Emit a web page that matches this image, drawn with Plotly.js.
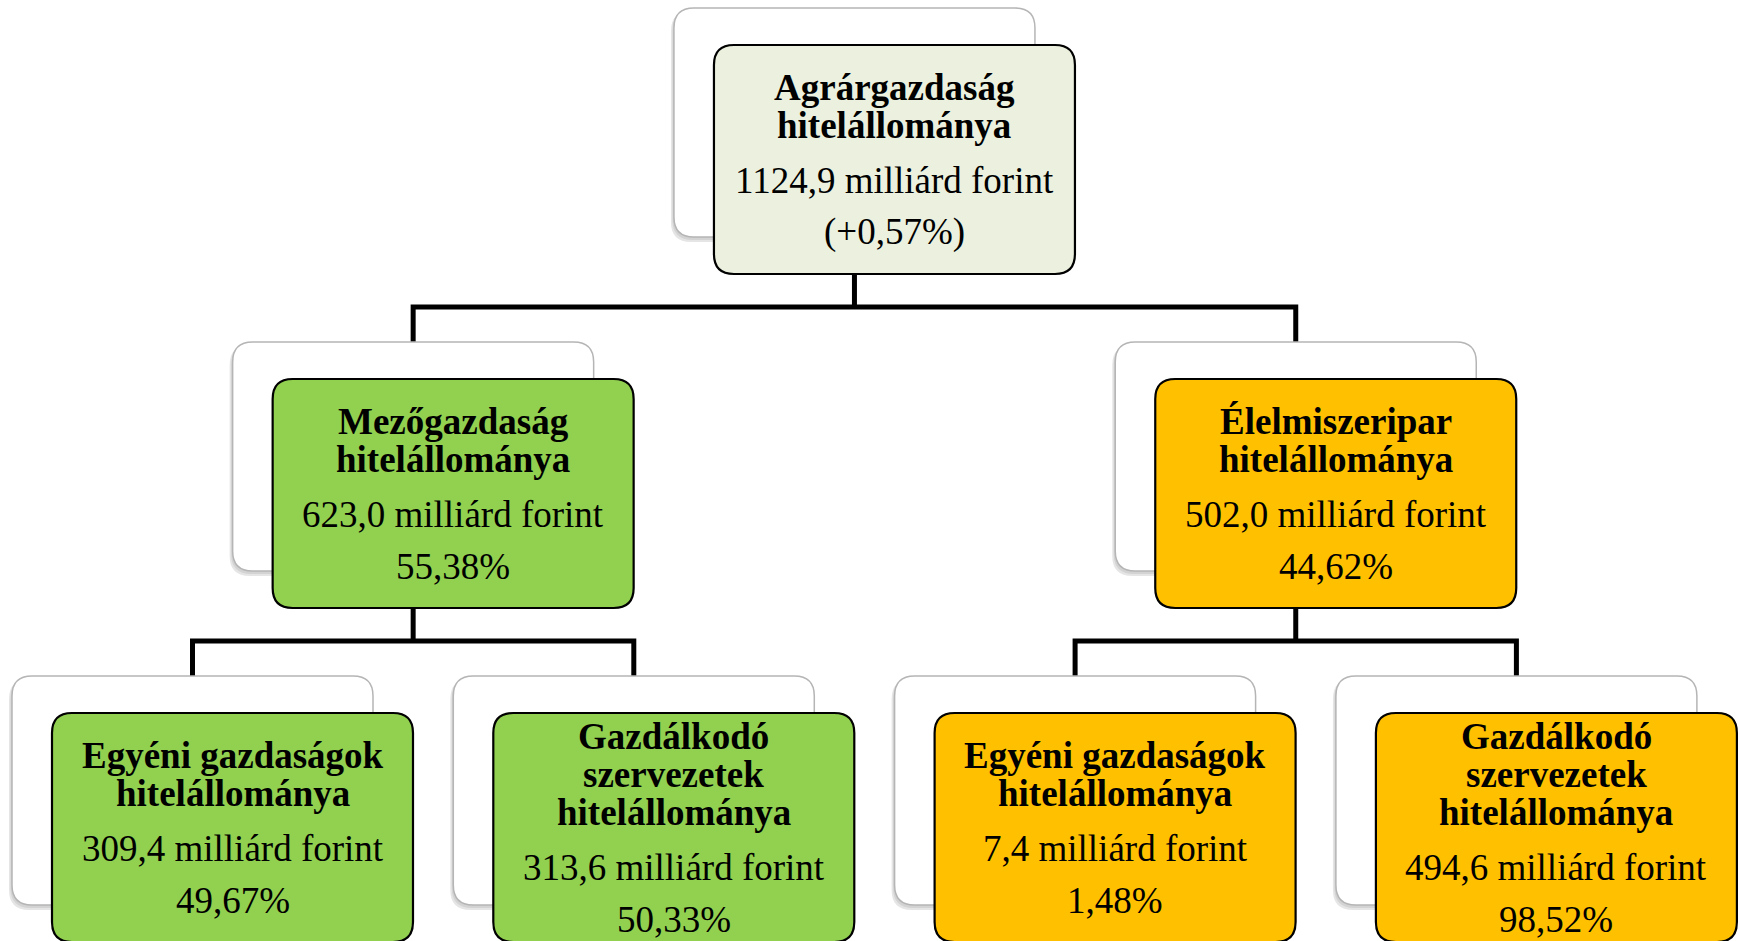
<!DOCTYPE html>
<html>
<head>
<meta charset="utf-8">
<script src="https://cdn.plot.ly/plotly-3.0.1.min.js"></script>
<style>
  html, body { margin: 0; padding: 0; background: #ffffff; overflow: hidden; }
  #chart { width: 1740px; height: 941px; }
</style>
</head>
<body>
<div id="chart"></div>
<script>
// ---------------- DATA ----------------
const nodeTitles = [
  ["Agrárgazdaság", "hitelállománya"],
  ["Mezőgazdaság", "hitelállománya"],
  ["Élelmiszeripar", "hitelállománya"],
  ["Egyéni gazdaságok", "hitelállománya"],
  ["Gazdálkodó", "szervezetek", "hitelállománya"],
  ["Egyéni gazdaságok", "hitelállománya"],
  ["Gazdálkodó", "szervezetek", "hitelállománya"]
];
const loanValues = [1124.9, 623.0, 502.0, 309.4, 313.6, 7.4, 494.6];
const shareLabels = ["(+0,57%)", "55,38%", "44,62%", "49,67%", "50,33%", "1,48%", "98,52%"];
const parentIndex = [null, 0, 0, 1, 1, 2, 2];
const valueUnit = "milliárd forint";

// ---------------- STYLE / LAYOUT ----------------
const nodeFills = ["#EBF1DE", "#92D050", "#FFC000", "#92D050", "#92D050", "#FFC000", "#FFC000"];
const W = 1740, H = 941;
const boxW = 361, boxH = 229;
const frontDx = 40, frontDy = 37;
const levelBackTop = [8, 342, 676];
const leafStart = 192.5, leafStep = 441.3;
const radius = 20;
const fontFamily = '"Liberation Serif", "Times New Roman", Times, serif';
const fontSize = 37;
const titleGap = 38, valueGap = 55, shareGap = 52;

function fmt(v) { return v.toFixed(1).replace('.', ',') + ' ' + valueUnit; }

// levels
const level = parentIndex.map(function (p, i) {
  let l = 0, q = p;
  while (q !== null) { l++; q = parentIndex[q]; }
  return l;
});
const children = parentIndex.map(function (_, i) {
  return parentIndex.map(function (p, j) { return p === i ? j : -1; }).filter(function (j) { return j >= 0; });
});
// back-box centres: leaves spaced evenly, parents centred over children
const centre = new Array(parentIndex.length);
let leafCount = 0;
function place(i) {
  if (children[i].length === 0) { centre[i] = leafStart + leafStep * leafCount++; return; }
  children[i].forEach(place);
  const cs = children[i].map(function (c) { return centre[c]; });
  centre[i] = (Math.min.apply(null, cs) + Math.max.apply(null, cs)) / 2;
}
place(0);

function roundRect(x0, y0, x1, y1, r) {
  return 'M' + (x0 + r) + ',' + y0 + ' H' + (x1 - r) + ' Q' + x1 + ',' + y0 + ' ' + x1 + ',' + (y0 + r) +
    ' V' + (y1 - r) + ' Q' + x1 + ',' + y1 + ' ' + (x1 - r) + ',' + y1 +
    ' H' + (x0 + r) + ' Q' + x0 + ',' + y1 + ' ' + x0 + ',' + (y1 - r) +
    ' V' + (y0 + r) + ' Q' + x0 + ',' + y0 + ' ' + (x0 + r) + ',' + y0 + ' Z';
}

const shapes = [];
const annotations = [];

// connectors
parentIndex.forEach(function (_, i) {
  if (children[i].length === 0) return;
  const pBottom = levelBackTop[level[i]] + frontDy + boxH;
  const cTop = levelBackTop[level[i] + 1];
  const barY = (pBottom + cTop) / 2 - 1;
  const cs = children[i].map(function (c) { return centre[c]; });
  const lineStyle = { color: '#000000', width: 5 };
  shapes.push({ type: 'path', xref: 'x', yref: 'y', layer: 'below', line: lineStyle,
    path: 'M' + centre[i] + ',' + pBottom + ' L' + centre[i] + ',' + barY });
  shapes.push({ type: 'path', xref: 'x', yref: 'y', layer: 'below', line: lineStyle,
    path: 'M' + Math.min.apply(null, cs) + ',' + (cTop + 2) + ' L' + Math.min.apply(null, cs) + ',' + barY +
      ' L' + Math.max.apply(null, cs) + ',' + barY + ' L' + Math.max.apply(null, cs) + ',' + (cTop + 2) });
});

// boxes
parentIndex.forEach(function (_, i) {
  const bx0 = centre[i] - boxW / 2, by0 = levelBackTop[level[i]];
  const fx0 = bx0 + frontDx, fy0 = by0 + frontDy;
  // soft shadow of back box
  shapes.push({ type: 'path', xref: 'x', yref: 'y', layer: 'above', line: { width: 0 },
    fillcolor: 'rgba(0,0,0,0.10)', path: roundRect(bx0 - 3, by0 + 3, bx0 + boxW - 1, by0 + boxH + 5, radius) });
  shapes.push({ type: 'path', xref: 'x', yref: 'y', layer: 'above', line: { width: 0 },
    fillcolor: 'rgba(0,0,0,0.08)', path: roundRect(bx0 - 1.5, by0 + 2, bx0 + boxW, by0 + boxH + 3, radius) });
  // back box
  shapes.push({ type: 'path', xref: 'x', yref: 'y', layer: 'above',
    line: { color: '#B5B5B5', width: 1.5 }, fillcolor: '#FFFFFF',
    path: roundRect(bx0, by0, bx0 + boxW, by0 + boxH, radius) });
  // front box
  shapes.push({ type: 'path', xref: 'x', yref: 'y', layer: 'above',
    line: { color: '#000000', width: 2.2 }, fillcolor: nodeFills[i],
    path: roundRect(fx0, fy0, fx0 + boxW, fy0 + boxH, radius) });

  // texts
  const lines = nodeTitles[i].map(function (t) { return { text: '<b>' + t + '</b>' }; });
  const span = titleGap * (lines.length - 1) + valueGap + shareGap;
  let y = fy0 + boxH / 2 - span / 2;
  const cx = fx0 + boxW / 2;
  const ys = [];
  lines.forEach(function (_, k) { ys.push(y + titleGap * k); });
  const valueY = ys[ys.length - 1] + valueGap;
  const shareY = valueY + shareGap;
  lines.push({ text: fmt(loanValues[i]) });
  lines.push({ text: shareLabels[i] });
  ys.push(valueY, shareY);
  lines.forEach(function (ln, k) {
    annotations.push({ x: cx, y: ys[k], xref: 'x', yref: 'y', text: ln.text, showarrow: false,
      xanchor: 'center', yanchor: 'middle',
      font: { family: fontFamily, size: fontSize, color: '#000000' } });
  });
});

const layout = {
  width: W, height: H,
  margin: { l: 0, r: 0, t: 0, b: 0, pad: 0 },
  paper_bgcolor: '#ffffff', plot_bgcolor: '#ffffff',
  showlegend: false,
  xaxis: { range: [0, W], visible: false, fixedrange: true },
  yaxis: { range: [H, 0], visible: false, fixedrange: true },
  shapes: shapes,
  annotations: annotations
};

Plotly.newPlot('chart', [{ x: [], y: [], type: 'scatter', mode: 'markers', hoverinfo: 'skip' }], layout,
  { displayModeBar: false, staticPlot: true });
</script>
</body>
</html>
